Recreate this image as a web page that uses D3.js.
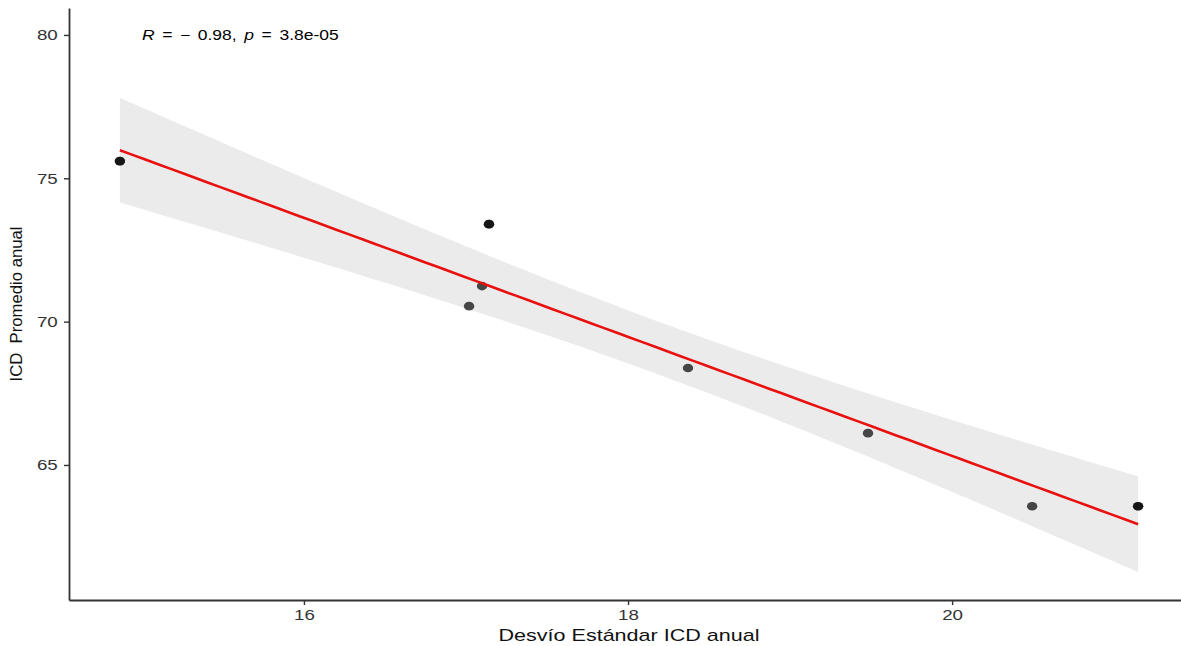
<!DOCTYPE html>
<html>
<head>
<meta charset="utf-8">
<script src="https://cdn.jsdelivr.net/npm/d3@7"></script>
<style>
  html, body { margin: 0; padding: 0; background: #fff; }
  svg { display: block; }
</style>
</head>
<body>
<div id="chart"></div>
<script>
const desvio = [14.864, 17.142, 17.099, 17.019, 18.370, 19.481, 20.494, 21.148];
const promedio = [75.60, 73.40, 71.24, 70.54, 68.38, 66.11, 63.56, 63.56];
// how many observations sit on each dot (darker dots are overplotted)
const repeats = [2, 2, 1, 1, 1, 1, 1, 2];

const xTicks = [16, 18, 20];
const yTicks = [65, 70, 75, 80];
const statLabel = { x: 15, y: 80 };

const width = 1181;
const height = 646;
const T975 = 2.446912; // t quantile, df = 6
const stretch = 1.25;  // the source picture is squeezed wider than tall

// linear fit + 95% confidence band (like geom_smooth(method = "lm"))
const n = desvio.length;
const mx = d3.mean(desvio);
const my = d3.mean(promedio);
let sxx = 0, sxy = 0;
desvio.forEach((x, i) => {
  sxx += (x - mx) ** 2;
  sxy += (x - mx) * (promedio[i] - my);
});
const slope = sxy / sxx;
const intercept = my - slope * mx;
const sse = d3.sum(desvio, (x, i) => (promedio[i] - (intercept + slope * x)) ** 2);
const s = Math.sqrt(sse / (n - 2));

const [x0, x1] = d3.extent(desvio);
const grid = d3.range(0, 81).map(k => x0 + (x1 - x0) * k / 80);
const fit = grid.map(x => {
  const yhat = intercept + slope * x;
  const se = s * Math.sqrt(1 / n + (x - mx) ** 2 / sxx);
  return { x, y: yhat, lo: yhat - T975 * se, hi: yhat + T975 * se };
});

const x = d3.scaleLinear().domain([14.55, 21.462]).range([69, 1189]);
const y = d3.scaleLinear().domain([60.29, 80.94]).range([600, 8]);

const svg = d3.select("#chart")
  .append("svg")
  .attr("width", width)
  .attr("height", height);

// band
svg.append("path")
  .datum(fit)
  .attr("fill", "#ebebeb")
  .attr("d", d3.area().x(d => x(d.x)).y0(d => y(d.lo)).y1(d => y(d.hi)));

// points
desvio.forEach((dx, i) => {
  d3.range(repeats[i]).forEach(() => {
    svg.append("ellipse")
      .attr("cx", x(dx))
      .attr("cy", y(promedio[i]))
      .attr("rx", 5.2)
      .attr("ry", 4.3)
      .attr("fill", "#000")
      .attr("fill-opacity", 0.7);
  });
});

// fitted line
svg.append("path")
  .datum(fit)
  .attr("fill", "none")
  .attr("stroke", "#e8110f")
  .attr("stroke-width", 2.6)
  .attr("d", d3.line().x(d => x(d.x)).y(d => y(d.y)));

// axes
const font = "'Liberation Sans', Arial, sans-serif";

const xAxis = svg.append("g")
  .attr("transform", "translate(0,600)")
  .call(d3.axisBottom(x).tickValues(xTicks).tickFormat(d3.format("d"))
    .tickSize(5).tickSizeOuter(0).tickPadding(4));
const yAxis = svg.append("g")
  .attr("transform", "translate(69,0)")
  .call(d3.axisLeft(y).tickValues(yTicks).tickFormat(d3.format("d"))
    .tickSize(5).tickSizeOuter(0).tickPadding(4));

[xAxis, yAxis].forEach(g => {
  g.select(".domain").attr("stroke", "#333").attr("stroke-width", 1.8);
  g.selectAll(".tick line").attr("stroke", "#333").attr("stroke-width", 1.4);
  g.selectAll(".tick text")
    .attr("fill", "#333")
    .attr("transform", `scale(${stretch},1)`)
    .style("font-family", font)
    .style("font-size", "15px");
});

// axis titles
svg.append("text")
  .attr("x", 629)
  .attr("y", 641)
  .attr("text-anchor", "middle")
  .attr("textLength", 261)
  .attr("lengthAdjust", "spacingAndGlyphs")
  .style("font-family", font)
  .style("font-size", "17px")
  .attr("fill", "#111")
  .text("Desvío Estándar ICD anual");

svg.append("text")
  .attr("transform", "translate(22,304) rotate(-90)")
  .attr("text-anchor", "middle")
  .attr("textLength", 155)
  .attr("lengthAdjust", "spacingAndGlyphs")
  .style("font-family", font)
  .style("font-size", "17px")
  .style("white-space", "pre")
  .attr("fill", "#111")
  .text("ICD  Promedio anual");

// correlation label
const label = svg.append("text")
  .attr("transform", `translate(${x(statLabel.x)},${y(statLabel.y) + 5}) scale(${stretch},1)`)
  .style("font-family", font)
  .style("font-size", "14px")
  .style("word-spacing", "2.2px")
  .style("white-space", "pre")
  .attr("fill", "#000");
label.append("tspan").style("font-style", "italic").text("R");
label.append("tspan").text(" = \u2212 0.98, ");
label.append("tspan").style("font-style", "italic").text("p");
label.append("tspan").text(" = 3.8e-05");
</script>
</body>
</html>
